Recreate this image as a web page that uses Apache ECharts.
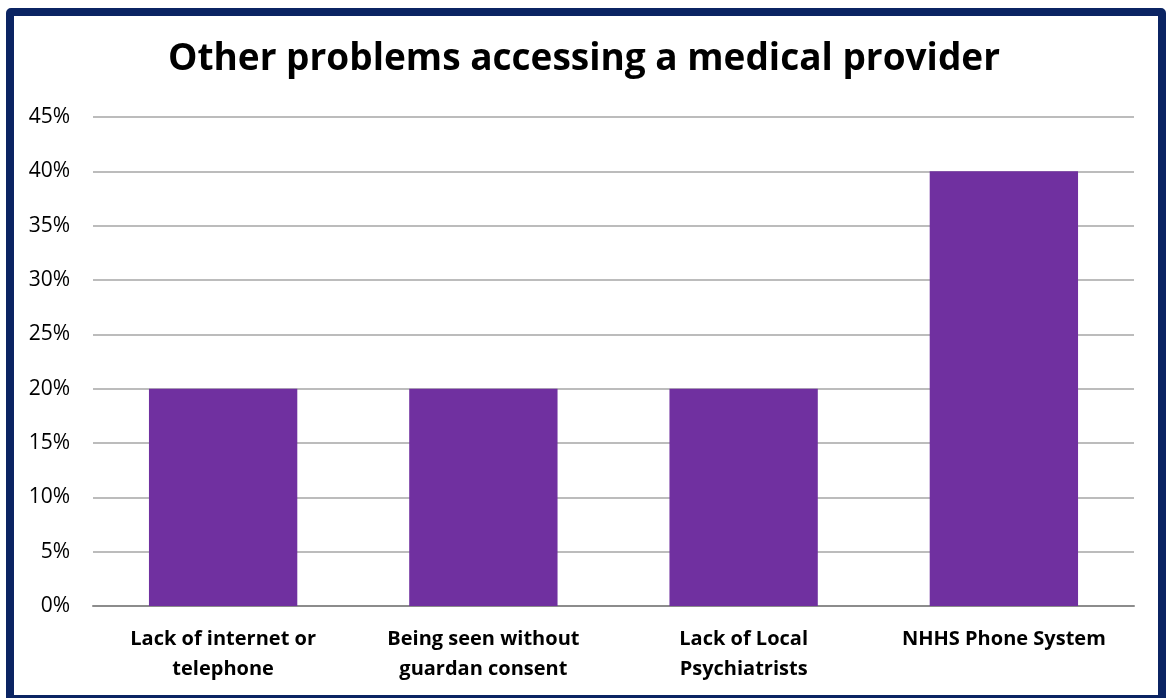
<!DOCTYPE html>
<html>
<head>
<meta charset="utf-8">
<script src="https://cdn.jsdelivr.net/npm/echarts@6/dist/echarts.min.js"></script>
<style>
  html, body { margin: 0; padding: 0; background: #fff; }
  #chart { position: absolute; left: 0; top: 0; width: 1168px; height: 698px; }
  .frame {
    position: absolute; left: 6px; top: 8px; width: 1160px; height: 695px;
    box-sizing: border-box; border: 8px solid #0B2463; border-radius: 5px;
    pointer-events: none;
  }
</style>
</head>
<body>
<div id="chart"></div>
<div class="frame"></div>
<script>
const categories = [
  'Lack of internet or\ntelephone',
  'Being seen without\nguardan consent',
  'Lack of Local\nPsychiatrists',
  'NHHS Phone System'
];
const values = [20, 20, 20, 40];

let chart = echarts.init(document.getElementById('chart'));
let option = {
  animation: false,
  title: {
    text: 'Other problems accessing a medical provider',
    left: 'center',
    top: 36,
    textStyle: {
      fontFamily: 'Open Sans',
      fontSize: 37,
      fontWeight: 'bold',
      color: '#000'
    }
  },
  grid: { left: 93, right: 34, top: 117, bottom: 92 },
  xAxis: {
    type: 'category',
    data: categories,
    axisTick: { show: false },
    axisLine: { lineStyle: { color: '#8c8c8c', width: 2 } },
    axisLabel: {
      interval: 0,
      hideOverlap: false,
      margin: 18,
      fontFamily: 'Open Sans',
      fontSize: 20,
      fontWeight: 'bold',
      color: '#000',
      lineHeight: 30
    }
  },
  yAxis: {
    type: 'value',
    min: 0,
    max: 45,
    interval: 5,
    axisLabel: {
      formatter: '{value}%',
      margin: 23,
      fontFamily: 'Open Sans',
      fontSize: 21,
      color: '#000'
    },
    splitLine: { lineStyle: { color: '#a6a6a6', width: 1.5 } }
  },
  series: [{
    type: 'bar',
    data: values,
    barWidth: '57%',
    itemStyle: { color: '#7030A0' }
  }]
};
chart.setOption(option);
</script>
</body>
</html>
